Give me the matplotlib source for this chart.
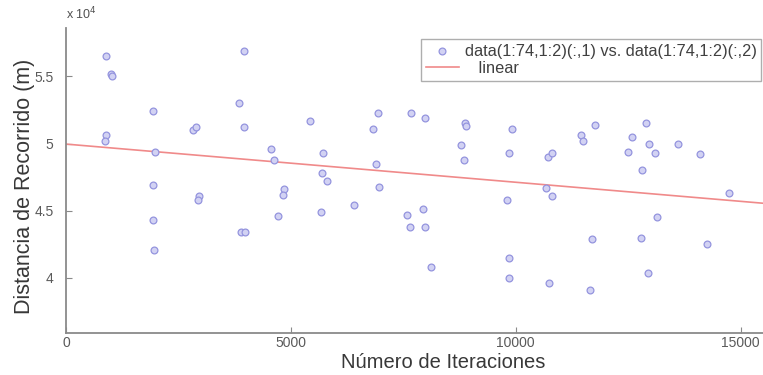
import matplotlib
matplotlib.use("Agg")
import matplotlib.pyplot as plt
from matplotlib.ticker import FuncFormatter, FixedLocator
import numpy as np

plt.rcParams['font.family'] = ['Liberation Sans', 'DejaVu Sans']

# Iterations (x) and travelled distance (y, metres)
iteraciones = [889, 1000, 1022, 889, 867, 1926, 1970, 2815, 2888, 3837, 3948, 3963, 4548, 4622,
               5437, 5718, 5704, 6940, 6829, 6888, 7682, 7977, 8866, 8896, 8785, 8859, 9911, 9852,
               10710, 10800, 11459, 11496, 11770, 12904, 12578, 12489, 12963, 13089, 13607, 14089, 12807,
               1941, 1941, 1963, 2948, 2933, 3900, 3990, 4851, 4815, 4718,
               5807, 5667, 6407, 6962, 7585, 7644, 7941, 7978, 8126, 9807, 9852, 9852,
               10681, 10815, 14733, 13148, 11689, 12784, 14259, 12941, 10733, 11644]
distancia = [56500, 55200, 55000, 50650, 50200, 52400, 49400, 51000, 51200, 53000, 56900, 51200, 49600, 48800,
             51700, 49300, 47800, 52300, 51100, 48500, 52300, 51900, 51500, 51300, 49900, 48800, 51100, 49300,
             49000, 49300, 50600, 50200, 51400, 51500, 50500, 49400, 50000, 49300, 50000, 49200, 48000,
             46900, 44300, 42100, 46100, 45800, 43400, 43400, 46600, 46200, 44600,
             47200, 44900, 45400, 46800, 44700, 43800, 45100, 43800, 40800, 45800, 41500, 40000,
             46700, 46100, 46300, 44500, 42900, 43000, 42500, 40400, 39600, 39100]

# Linear fit coefficients
fit_intercept = 49960.0
fit_slope = -0.284

x_ticks = [0, 5000, 10000, 15000]
y_ticks = [40000, 45000, 50000, 55000]

fig = plt.figure(figsize=(7.63, 3.75), dpi=100)
ax = fig.add_axes([66/763, 1 - 333/375, 1 - 66/763, (333 - 28)/375])

ax.scatter(iteraciones, distancia, s=24, facecolor='#d2d2f3', edgecolor='#9494de',
           linewidths=0.9, zorder=3, label='data(1:74,1:2)(:,1) vs. data(1:74,1:2)(:,2)')

xlim = (0, 15500)
xf = np.array(xlim, dtype=float)
ax.plot(xf, fit_intercept + fit_slope * xf, color='#f08a8a', lw=1.2, zorder=2,
        label='   linear')

ax.set_xlim(*xlim)
ax.set_ylim(35900, 58600)

ax.xaxis.set_major_locator(FixedLocator(x_ticks))
ax.yaxis.set_major_locator(FixedLocator(y_ticks))
ax.yaxis.set_major_formatter(FuncFormatter(lambda v, p: ('%g' % (v / 1e4))))
ax.xaxis.set_major_formatter(FuncFormatter(lambda v, p: '%d' % v))

for s in ['top', 'right']:
    ax.spines[s].set_visible(False)
for s in ['left', 'bottom']:
    ax.spines[s].set_color('#8a8a8a')
    ax.spines[s].set_linewidth(1.3)

ax.tick_params(direction='in', length=4, width=0.8, color='#8a8a8a',
               labelsize=10, labelcolor='#5a5a5a')
ax.tick_params(axis='y', pad=9)
ax.tick_params(axis='x', pad=2)

xl = ax.set_xlabel('Número de Iteraciones', fontsize=14.5, color='#383838')
xl.set_va('center')
ax.xaxis.set_label_coords(0.541, -0.097)
yl = ax.set_ylabel('Distancia de Recorrido (m)', fontsize=15.5, color='#383838')
yl.set_va('center')
ax.yaxis.set_label_coords(-0.059, 0.48)

ax.text(0.0, 1.02, r'x 10$^{4}$', transform=ax.transAxes, fontsize=9, color='#505050',
        ha='left', va='bottom')

leg = ax.legend(loc='upper right', bbox_to_anchor=(1.0, 0.97), fontsize=11.8,
                frameon=True, fancybox=False, borderpad=0.3, handlelength=2.0,
                handletextpad=0.35, labelspacing=0.12, borderaxespad=0.1)
leg.get_frame().set_edgecolor('#9a9a9a')
leg.get_frame().set_linewidth(1.0)
for t in leg.get_texts():
    t.set_color('#404040')

fig.savefig('out.png', dpi=100)
